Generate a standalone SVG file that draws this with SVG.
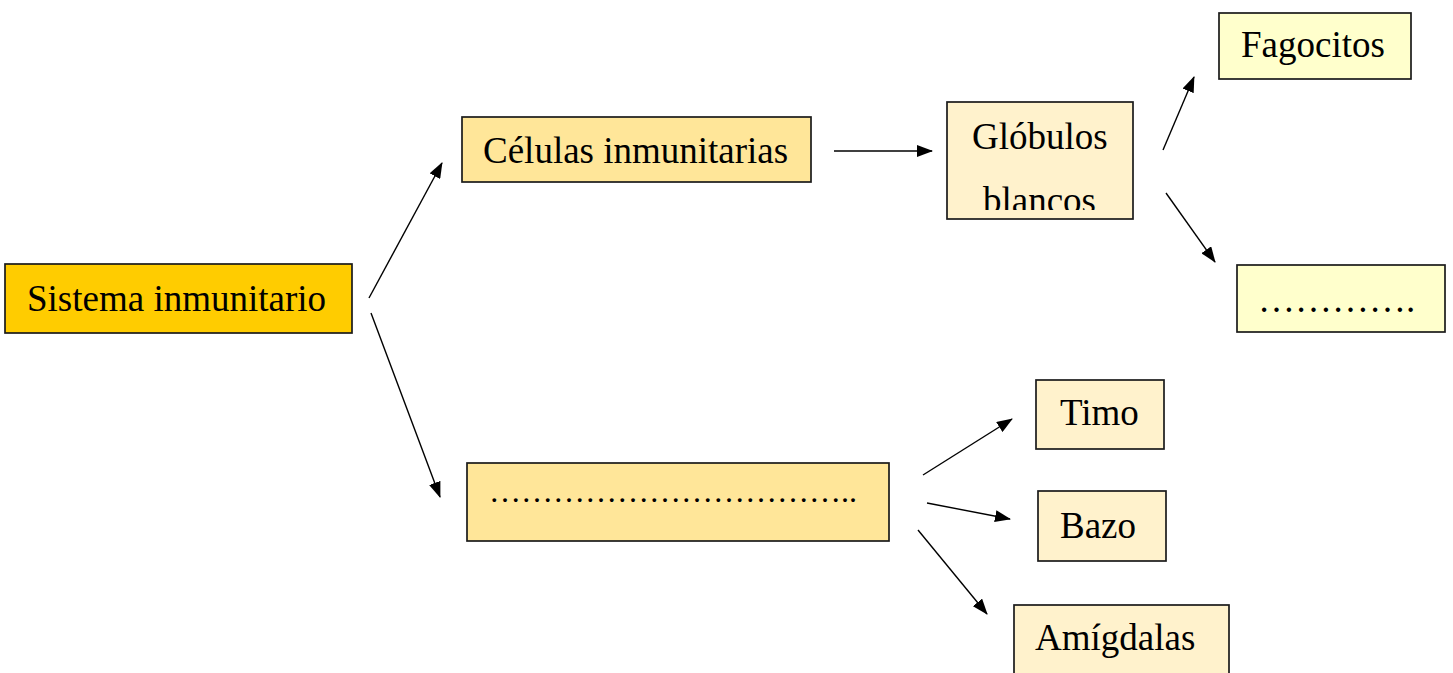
<svg xmlns="http://www.w3.org/2000/svg" width="1453" height="673" viewBox="0 0 1453 673">
  <style>
    .box { stroke: #1a1a1a; stroke-width: 1.7; }
    .gold { fill: #FFCC00; }
    .amber { fill: #FFE699; }
    .cream { fill: #FFF2CC; }
    .pale { fill: #FFFFCC; }
    .lbl { font-family: "Liberation Serif", "Times New Roman", serif; font-size: 37px; fill: #000; }
    .link { stroke: #000; stroke-width: 1.4; fill: none; marker-end: url(#head); }
  </style>
  <defs>
    <marker id="head" viewBox="0 0 16 12" refX="15" refY="6" markerWidth="16" markerHeight="12" markerUnits="userSpaceOnUse" orient="auto">
      <path d="M0,0 L16,6 L0,12 Z" fill="#000"/>
    </marker>
    <!-- the second line of the label overflows its frame and is cut short -->
    <clipPath id="clipGlob">
      <rect x="947" y="102" width="186" height="108"/>
    </clipPath>
  </defs>
  <rect width="1453" height="673" fill="#fff"/>

  <g id="sistema">
    <rect class="box gold" x="5" y="264" width="347" height="69"/>
    <text class="lbl" x="27" y="311">Sistema inmunitario</text>
  </g>

  <g id="celulas">
    <rect class="box amber" x="462" y="117" width="349" height="65"/>
    <text class="lbl" x="483" y="163">Células inmunitarias</text>
  </g>

  <g id="organos">
    <rect class="box amber" x="467" y="463" width="422" height="78"/>
    <text class="lbl" x="489" y="502" style="font-size:32px">&#8230;&#8230;&#8230;&#8230;&#8230;&#8230;&#8230;&#8230;&#8230;&#8230;&#8230;..</text>
  </g>

  <g id="globulos">
    <rect class="box cream" x="947" y="102" width="186" height="117"/>
    <g clip-path="url(#clipGlob)">
      <text class="lbl" x="972" y="149">Glóbulos</text>
      <text class="lbl" x="983" y="213">blancos</text>
    </g>
  </g>

  <g id="fagocitos">
    <rect class="box pale" x="1219" y="13" width="192" height="66"/>
    <text class="lbl" x="1241" y="57">Fagocitos</text>
  </g>

  <g id="otros">
    <rect class="box pale" x="1237" y="265" width="208" height="67"/>
    <text class="lbl" x="1258" y="312">&#8230;&#8230;&#8230;&#8230;.</text>
  </g>

  <g id="timo">
    <rect class="box cream" x="1036" y="380" width="128" height="69"/>
    <text class="lbl" x="1060" y="425">Timo</text>
  </g>

  <g id="bazo">
    <rect class="box cream" x="1038" y="491" width="128" height="70"/>
    <text class="lbl" x="1060" y="538">Bazo</text>
  </g>

  <g id="amigdalas">
    <rect class="box cream" x="1014" y="605" width="215" height="80"/>
    <text class="lbl" x="1035" y="650">Amígdalas</text>
  </g>

  <g id="connectors">
    <line class="link" x1="369" y1="298" x2="442" y2="163"/>
    <line class="link" x1="371" y1="313" x2="440" y2="497"/>
    <line class="link" x1="834" y1="151" x2="932" y2="151"/>
    <line class="link" x1="1163" y1="150" x2="1194" y2="77"/>
    <line class="link" x1="1166" y1="193" x2="1215" y2="262"/>
    <line class="link" x1="923" y1="475" x2="1012" y2="419"/>
    <line class="link" x1="927" y1="503" x2="1010" y2="519"/>
    <line class="link" x1="918" y1="530" x2="987" y2="614"/>
  </g>
</svg>
